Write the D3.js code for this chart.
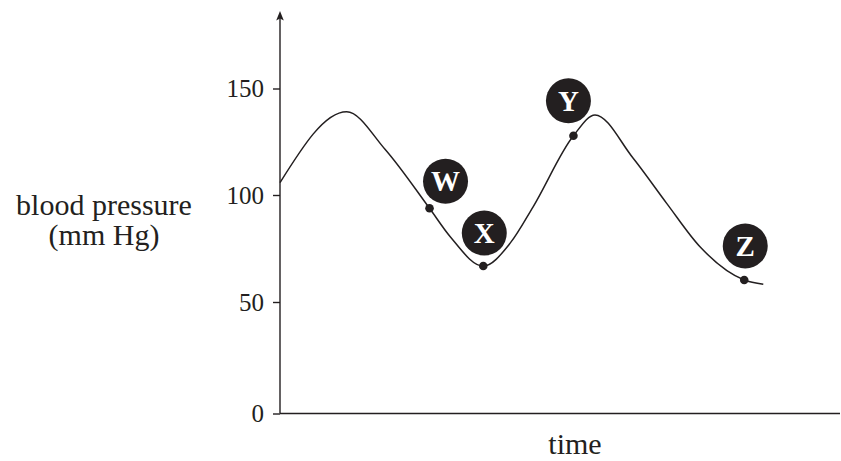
<!DOCTYPE html>
<html>
<head>
<meta charset="utf-8">
<script src="https://cdn.jsdelivr.net/npm/d3@7"></script>
<style>
  html, body { margin: 0; padding: 0; background: #fff; }
  svg { display: block; }
  text { font-family: "Liberation Serif", "Times New Roman", serif; fill: #231f20; }
</style>
</head>
<body>
<svg id="chart" width="841" height="461"></svg>
<script>
// Blood pressure over time (arbitrary time units)
const times    = [0, 11.9, 18.75, 26.7, 30.4, 36.3, 41.1, 45.2, 52.4, 56.25, 63.0, 69.05, 75.0, 82.9, 86.3];
const pressure = [105.8, 139.1, 121.5, 93.8, 80.5, 66.8, 77.5, 94.5, 127.8, 137.6, 117.5, 96.1, 75.8, 60.3, 58.3];

// Labelled points on the curve
const markerLabels = ["W", "X", "Y", "Z"];
const markerTimes  = [26.7, 36.3, 52.4, 82.9];
const markerValues = [93.8, 66.8, 127.8, 60.3];

// Y-axis ticks
const yTicks = [0, 50, 100, 150];

const ink = "#231f20";
const svg = d3.select("#chart");

const x = d3.scaleLinear().domain([0, 100]).range([280, 840]);
const y = d3.scaleLinear().domain([0, 50, 100, 150]).range([413.5, 302, 195, 88.5]);

// Axes
const yAxis = d3.axisLeft(y).tickValues(yTicks).tickSize(7).tickPadding(9);
const gy = svg.append("g").attr("transform", `translate(${x(0)},0)`).call(yAxis);
gy.select(".domain").remove();
gy.selectAll(".tick line").attr("stroke", ink).attr("stroke-width", 1.4);
gy.selectAll(".tick text")
  .style("font-family", '"Liberation Serif", "Times New Roman", serif')
  .style("font-size", "25px")
  .attr("fill", ink);

// Vertical axis line with arrow
svg.append("line")
  .attr("x1", x(0)).attr("x2", x(0))
  .attr("y1", y(0)).attr("y2", 16)
  .attr("stroke", ink).attr("stroke-width", 1.4);
svg.append("path")
  .attr("d", `M${x(0)},11 L${x(0) - 3.8},20.5 L${x(0)},18.5 L${x(0) + 3.8},20.5 Z`)
  .attr("fill", ink);

// Horizontal axis line
svg.append("line")
  .attr("x1", x(0)).attr("x2", x(100))
  .attr("y1", y(0)).attr("y2", y(0))
  .attr("stroke", ink).attr("stroke-width", 1.4);

// Axis titles
const yTitle = svg.append("text")
  .attr("text-anchor", "middle")
  .style("font-size", "30px");
yTitle.append("tspan").attr("x", 104).attr("y", 215).text("blood pressure");
yTitle.append("tspan").attr("x", 104).attr("y", 245).text("(mm Hg)");

svg.append("text")
  .attr("x", 575).attr("y", 454)
  .attr("text-anchor", "middle")
  .style("font-size", "30px")
  .text("time");

// Pressure curve (monotone spline: flat at the peaks and troughs)
const pts = times.map((t, i) => [t, pressure[i]]);
const line = d3.line()
  .x(d => x(d[0]))
  .y(d => y(d[1]))
  .curve(d3.curveMonotoneX);

svg.append("path")
  .datum(pts)
  .attr("d", line)
  .attr("fill", "none")
  .attr("stroke", ink)
  .attr("stroke-width", 1.5);

// Markers and their lettered badges
const badgeOffset = { W: [16, -27], X: [1, -33], Y: [-5, -35], Z: [1, -34] };
const markers = markerLabels.map((l, i) => ({ label: l, t: markerTimes[i], v: markerValues[i] }));

const mg = svg.append("g");
mg.selectAll("circle.dot")
  .data(markers)
  .join("circle")
  .attr("class", "dot")
  .attr("cx", d => x(d.t))
  .attr("cy", d => y(d.v))
  .attr("r", 4.3)
  .attr("fill", ink);

const badges = mg.selectAll("g.badge")
  .data(markers)
  .join("g")
  .attr("class", "badge")
  .attr("transform", d => `translate(${x(d.t) + badgeOffset[d.label][0]},${y(d.v) + badgeOffset[d.label][1]})`);

badges.append("circle")
  .attr("r", 22.5)
  .attr("fill", ink);

badges.append("text")
  .attr("text-anchor", "middle")
  .attr("dy", "0.35em")
  .style("font-size", "29px")
  .style("font-weight", "bold")
  .style("fill", "#fff")
  .text(d => d.label);
</script>
</body>
</html>
